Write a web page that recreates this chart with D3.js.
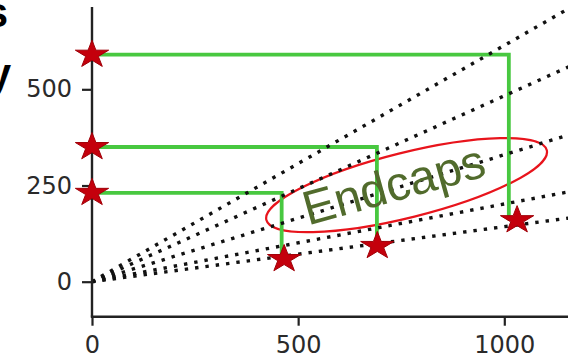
<!DOCTYPE html>
<html>
<head>
<meta charset="utf-8">
<script src="https://cdn.jsdelivr.net/npm/d3@7"></script>
<style>
  html, body { margin: 0; padding: 0; background: #fff; }
  svg { display: block; }
</style>
</head>
<body>
<svg id="chart" width="568" height="361"></svg>
<script>
// ---- data ----
const rayX = [0, 1200];                              // rays from the origin
const raySlopes = [0.614, 0.483, 0.330, 0.202, 0.143];
const leftY = [231, 350, 590];                      // stars on the y axis
const cornerX = [460, 691, 1011];                   // x of the vertical green legs
const endX = [466, 692, 1031];                      // endcap star positions
const endY = [59, 93, 160];
const xTicks = [0, 500, 1000];
const yTicks = [0, 250, 500];
const xExtent = [0, 1200];
const yExtent = [-91, 714];
const label = "Endcaps";
const labelPos = [524, 146];
const ellipseCenter = [763, 251];

// ---- layout ----
const svg = d3.select("#chart");
const x = d3.scaleLinear().domain([0, 1000]).range([92, 504.3]);
const y = d3.scaleLinear().domain([0, 500]).range([281.7, 89.3]);

// clipped fragments of text at the far left
svg.append("text").attr("x", 8).attr("y", 27).attr("text-anchor", "end")
  .attr("font-family", "Liberation Sans, Arial, sans-serif").attr("font-weight", "bold")
  .attr("font-size", 42).attr("fill", "#000").text("s");
svg.append("text").attr("x", 11).attr("y", 88).attr("text-anchor", "end")
  .attr("font-family", "Liberation Sans, Arial, sans-serif").attr("font-weight", "bold")
  .attr("font-size", 42).attr("fill", "#000").text("y");

// ellipse (behind)
svg.append("ellipse")
  .attr("cx", x(ellipseCenter[0])).attr("cy", y(ellipseCenter[1]))
  .attr("rx", 144.5).attr("ry", 32.5)
  .attr("transform", `rotate(-14 ${x(ellipseCenter[0])} ${y(ellipseCenter[1])})`)
  .attr("fill", "none").attr("stroke", "#e8141c").attr("stroke-width", 2.2);

// green step paths
const greenLine = d3.line().x(d => x(d[0])).y(d => y(d[1]));
leftY.forEach((ly, i) => {
  svg.append("path")
    .attr("d", greenLine([[0, ly], [cornerX[i], ly], [cornerX[i], endY[i]]]))
    .attr("fill", "none").attr("stroke", "#48c840").attr("stroke-width", 3.8);
});

// dotted rays
const rayLine = d3.line().x(d => x(d[0])).y(d => y(d[1]));
raySlopes.forEach(s => {
  svg.append("path")
    .attr("d", rayLine(rayX.map(v => [v, v * s])))
    .attr("fill", "none").attr("stroke", "#111").attr("stroke-width", 3.4)
    .attr("stroke-dasharray", "3.4 7");
});

// spines
svg.append("line")
  .attr("x1", x(0)).attr("x2", x(0)).attr("y1", y(yExtent[1])).attr("y2", y(yExtent[0]))
  .attr("stroke", "#222").attr("stroke-width", 2.4);
svg.append("line")
  .attr("x1", x(xExtent[0]) - 1.2).attr("x2", x(xExtent[1])).attr("y1", y(yExtent[0])).attr("y2", y(yExtent[0]))
  .attr("stroke", "#222").attr("stroke-width", 2.4);

// axes
const yAxis = svg.append("g").attr("transform", `translate(${x(0)},0)`)
  .call(d3.axisLeft(y).tickValues(yTicks).tickSize(10).tickPadding(10).tickFormat(d3.format("d")));
const xAxis = svg.append("g").attr("transform", `translate(0,${y(yExtent[0])})`)
  .call(d3.axisBottom(x).tickValues(xTicks).tickSize(9).tickPadding(10).tickFormat(d3.format("d")));
[xAxis, yAxis].forEach(g => {
  g.select(".domain").remove();
  g.selectAll(".tick line").attr("stroke", "#222").attr("stroke-width", 2.2);
  g.selectAll(".tick text").attr("fill", "#2a2a2a")
    .attr("font-family", "DejaVu Sans, sans-serif").attr("font-size", 24);
});

// label
svg.append("text")
  .attr("x", x(labelPos[0])).attr("y", y(labelPos[1]))
  .attr("transform", `rotate(-15.5 ${x(labelPos[0])} ${y(labelPos[1])})`)
  .attr("font-family", "Liberation Sans, Arial, sans-serif")
  .attr("font-size", 48).attr("fill", "#516b2c").text(label);

// stars
const starPath = (rx, ry) => {
  const pts = [];
  for (let k = 0; k < 10; k++) {
    const r = k % 2 === 0 ? 1 : 0.382;
    const a = -Math.PI / 2 + k * Math.PI / 5;
    pts.push([rx * r * Math.cos(a), ry * r * Math.sin(a)]);
  }
  return "M" + pts.map(p => p.join(",")).join("L") + "Z";
};
const starD = starPath(17.5, 14.5);
const stars = leftY.map(v => [0, v]).concat(endX.map((v, i) => [v, endY[i]]));
svg.selectAll("path.star").data(stars).enter().append("path")
  .attr("class", "star")
  .attr("d", starD)
  .attr("transform", d => `translate(${x(d[0])},${y(d[1])})`)
  .attr("fill", "#c4000c").attr("stroke", "#a00008").attr("stroke-width", 1);
</script>
</body>
</html>
